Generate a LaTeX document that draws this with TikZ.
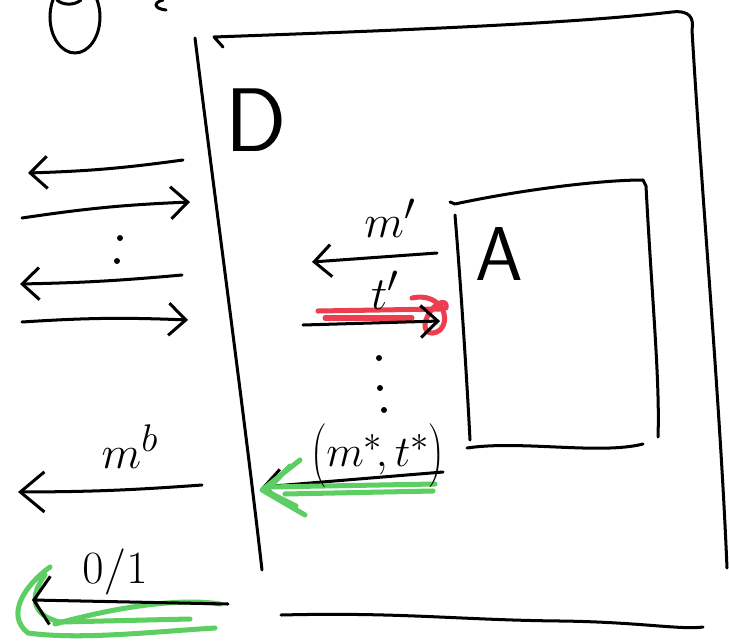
\documentclass[tikz,border=0pt]{standalone}
\usepackage{xcolor}
\usepackage{tikz}
\usetikzlibrary{arrows.meta}
\definecolor{scribred}{RGB}{236,62,78}
\definecolor{scribgreen}{RGB}{92,206,98}

\begin{document}
\begin{tikzpicture}[x=.035cm,y=-.035cm,
  ink/.style={line width=3pt,line cap=round,line join=round},
  barb/.style={ink,-{Straight Barb[length=17pt,width=32pt]}},
  hl/.style={line width=5pt,line cap=round,line join=round},
  lbl/.style={inner sep=0pt,font=\Huge,scale=1.85}]
\useasboundingbox (0,0) rectangle (729,644);
\clip (0,0) rectangle (729,644);
\draw[ink] (75,17) ellipse (25 and 36);
\draw[ink] (57,0) .. controls (62,5) and (74,6) .. (81,0);
\draw[ink] (163,0) .. controls (152,3) and (155,9) .. (166,10);
% outer box D
\draw[ink] (223,47) -- (214,37) .. controls (350,32) and (560,25) .. (672,12) .. controls (690,10) and (694,18) .. (692,30) .. controls (702,200) and (720,400) .. (727,568);
\draw[ink] (195,38) .. controls (215,200) and (245,420) .. (262,570);
\draw[ink] (281,615) .. controls (400,612) and (460,620) .. (560,621) .. controls (640,622) and (680,630) .. (703,627);
\node[inner sep=0pt,font=\sffamily\fontsize{90}{90}\selectfont] (dname) at (256,120) {D};
% inner box A
\draw[ink] (450,202) -- (455,204) .. controls (520,190) and (600,180) .. (643,180) -- (646,186) .. controls (652,300) and (660,380) .. (658,437);
\draw[ink] (455,215) .. controls (462,300) and (468,400) .. (470,440);
\draw[ink] (467,448) .. controls (520,440) and (600,455) .. (643,444);
\node[inner sep=0pt,font=\sffamily\fontsize{76}{76}\selectfont] (aname) at (499,254) {A};
% left side queries
\coordinate (q1a) at (183,160); \coordinate (q1b) at (28,173);
\coordinate (q2a) at (22,218); \coordinate (q2b) at (190,202);
\coordinate (q3a) at (182,275); \coordinate (q3b) at (20,284);
\coordinate (q4a) at (22,322); \coordinate (q4b) at (188,320);
\draw[barb] (q1a) to[bend left=3] (q1b);
\draw[barb] (q2a) to[bend left=3] (q2b);
\draw[barb] (q3a) to[bend left=2] (q3b);
\draw[barb] (q4a) to[bend left=3] (q4b);
\foreach \p in {(120,238),(117,261),(379,358),(380,388),(384,410)}{\fill \p circle (3);}
% inner queries
\coordinate (mtail) at (437,253); \coordinate (mtip) at (312,262);
\coordinate (ttail) at (303,325); \coordinate (ttip) at (440,321);
\draw[barb] (mtail) -- (mtip);
\node[lbl] (mq) at (390,218) {$m'$};
\draw[hl,scribred] (318,311) -- (440,309);
\draw[hl,scribred] (325,318) -- (412,318);
\draw[hl,scribred] (412,298) .. controls (440,292) and (452,318) .. (440,330) .. controls (430,338) and (418,330) .. (430,312) .. controls (438,300) and (448,300) .. (446,308);
\draw[barb] (ttail) -- (ttip);
\node[lbl] (tq) at (385,290) {$t'$};
% forgery
\coordinate (ftail) at (443,472); \coordinate (ftip) at (262,487);
\draw[barb] (ftail) -- (ftip);
\draw[hl,scribgreen] (435,484) -- (268,487) (433,491) -- (285,494);
\draw[hl,scribgreen] (300,460) -- (262,490) -- (305,515) (290,466) -- (266,491) -- (296,506);
\node[lbl,scale=.95] (forge) at (378,456) {$\left(\vrule height 20pt depth 11pt width 0pt m^*\!, t^*\right)$};
% challenge and output
\coordinate (ctail) at (202,485); \coordinate (ctip) at (18,492);
\draw[ink,-{Straight Barb[length=24pt,width=40pt]}] (ctail) to[bend left=2] (ctip);
\node[lbl] (chal) at (130,447) {$m^{b}$};
\coordinate (otail) at (228,604); \coordinate (otip) at (32,600);
\draw[hl,scribgreen] (50,567) .. controls (25,585) and (5,615) .. (28,633) .. controls (80,640) and (150,632) .. (215,628);
\draw[hl,scribgreen] (45,575) .. controls (30,595) and (30,615) .. (60,622) -- (190,619);
\draw[hl,scribgreen] (55,624) .. controls (120,606) and (180,598) .. (220,604);
\draw[ink,-{Straight Barb[length=16pt,width=48pt]}] (otail) -- (otip);
\node[lbl] (outp) at (115,572) {$0/1$};
\end{tikzpicture}
\end{document}
